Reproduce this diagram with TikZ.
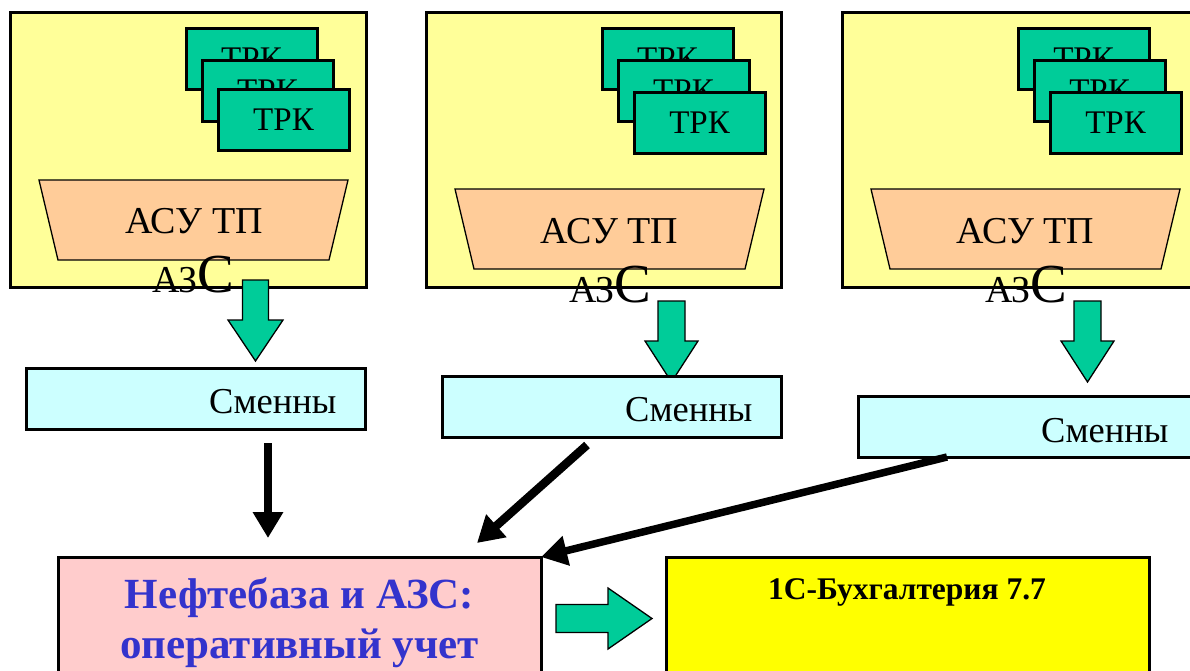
\documentclass[tikz,border=0pt]{standalone}
\usepackage{fontspec}
\setmainfont{Liberation Serif}
\usetikzlibrary{arrows.meta}
\definecolor{stationyellow}{HTML}{FFFF99}
\definecolor{trkgreen}{HTML}{00CC99}
\definecolor{asupeach}{HTML}{FFCC99}
\definecolor{shiftcyan}{HTML}{CCFFFF}
\definecolor{basepink}{HTML}{FFCCCC}
\definecolor{accyellow}{HTML}{FFFF00}
\definecolor{titleblue}{HTML}{3333CC}
\begin{document}
\begin{tikzpicture}[x=1pt,y=-1pt,
  station/.style={draw, line width=3pt, fill=stationyellow, inner sep=0pt, outer sep=0pt, anchor=north west},
  trkbox/.style={draw, line width=3pt, fill=trkgreen, minimum width=131pt, minimum height=61pt, inner sep=0pt, outer sep=0pt, anchor=north west, font=\fontsize{33}{36}\selectfont},
  asushape/.style={draw, line width=1.3pt, fill=asupeach},
  asulabel/.style={anchor=base, inner sep=0pt, font=\fontsize{38}{42}\selectfont},
  azslabel/.style={anchor=base west, inner sep=0pt},
  shiftbox/.style={draw, line width=3pt, fill=shiftcyan, inner sep=0pt, outer sep=0pt, anchor=north west},
  shiftlabel/.style={anchor=base west, inner sep=0pt, font=\fontsize{36.5}{40}\selectfont},
  blockarrow/.style={draw, line width=1.3pt, fill=trkgreen, line join=miter},
  flowarrow/.style={line width=8.5pt, -{Triangle[length=26pt,width=29pt]}},
  bigbox/.style={draw, line width=3pt, inner sep=0pt, outer sep=0pt, anchor=north west, minimum width=483pt, minimum height=150pt},
]
\path[use as bounding box] (0,0) rectangle (1190,670);
\clip (0,0) rectangle (1190,670);

% stations
\node[station, minimum width=356pt, minimum height=275pt] (st1) at (10,12) {};
\node[station, minimum width=355pt, minimum height=275pt] (st2) at (426,12) {};
\node[station, minimum width=400pt, minimum height=275pt] (st3) at (842,12) {};

% TRK stacks
\node[trkbox] (t11) at (186,28) {ТРК};
\node[trkbox] (t12) at (202,60) {ТРК};
\node[trkbox] (t13) at (218,89) {ТРК};
\node[trkbox] (t21) at (602,28) {ТРК};
\node[trkbox] (t22) at (618,60) {ТРК};
\node[trkbox] (t23) at (634,92) {ТРК};
\node[trkbox] (t31) at (1018,28) {ТРК};
\node[trkbox] (t32) at (1034,60) {ТРК};
\node[trkbox] (t33) at (1050,92) {ТРК};

% ASU TP trapezoids
\draw[asushape] (39,180) -- (348,180) -- (329,260) -- (58,260) -- cycle;
\draw[asushape] (455,189) -- (764,189) -- (745,269) -- (474,269) -- cycle;
\draw[asushape] (871,189) -- (1180,189) -- (1161,269) -- (890,269) -- cycle;
\node[asulabel] (asu1) at (194,233) {АСУ ТП};
\node[asulabel] (asu2) at (609.5,243) {АСУ ТП};
\node[asulabel] (asu3) at (1025.5,243) {АСУ ТП};

% green down arrows
\draw[blockarrow] (242.5,280) -- (268.5,280) -- (268.5,320) -- (283,320) -- (255.5,361) -- (228,320) -- (242.5,320) -- cycle;
\draw[blockarrow] (658,301) -- (685,301) -- (685,341) -- (698,341) -- (671.5,382) -- (645,341) -- (658,341) -- cycle;
\draw[blockarrow] (1074,301) -- (1101,301) -- (1101,341) -- (1114,341) -- (1087.5,382) -- (1061,341) -- (1074,341) -- cycle;

% AZS labels
\node[azslabel] (azs1) at (152,292) {\fontsize{38}{40}\selectfont АЗ\fontsize{55}{58}\selectfont С};
\node[azslabel] (azs2) at (569,302) {\fontsize{38}{40}\selectfont АЗ\fontsize{55}{58}\selectfont С};
\node[azslabel] (azs3) at (985,302) {\fontsize{38}{40}\selectfont АЗ\fontsize{55}{58}\selectfont С};

% shift report boxes
\node[shiftbox, minimum width=339pt, minimum height=61pt] (sh1) at (26,368) {};
\node[shiftbox, minimum width=339pt, minimum height=61pt] (sh2) at (442,376) {};
\node[shiftbox, minimum width=400pt, minimum height=61pt] (sh3) at (858,396) {};
\node[shiftlabel] (sh1t) at (209,413) {Сменны};
\node[shiftlabel] (sh2t) at (625,421) {Сменны};
\node[shiftlabel] (sh3t) at (1041,442) {Сменны};

% bottom boxes
\node[bigbox, fill=basepink] (base) at (58,557) {};
\node[anchor=base, inner sep=0pt, text=titleblue, font=\bfseries\fontsize{43}{50}\selectfont] (base1) at (299.5,608) {Нефтебаза и АЗС:};
\node[anchor=base, inner sep=0pt, text=titleblue, font=\bfseries\fontsize{43}{50}\selectfont] (base2) at (299.5,658) {оперативный учет};
\node[bigbox, fill=accyellow] (acc) at (666,557) {};
\node[anchor=base, inner sep=0pt, font=\bfseries\fontsize{31.5}{36}\selectfont] (acct) at (907,599) {1С-Бухгалтерия 7.7};

% green right arrow
\draw[blockarrow] (556,604.5) -- (608,604.5) -- (608,588) -- (652,618.5) -- (608,649) -- (608,632.5) -- (556,632.5) -- cycle;

% black flow arrows
\coordinate (f1s) at (268,443);
\coordinate (f1e) at (268,538);
\coordinate (f2s) at (587,445);
\coordinate (f2e) at (477,543);
\coordinate (f3s) at (947,457);
\draw[flowarrow] (f1s) -- (f1e);
\draw[flowarrow] (f2s) -- (f2e);
\draw[flowarrow, line width=7.5pt] (f3s) -- (base.north east);
\end{tikzpicture}
\end{document}
